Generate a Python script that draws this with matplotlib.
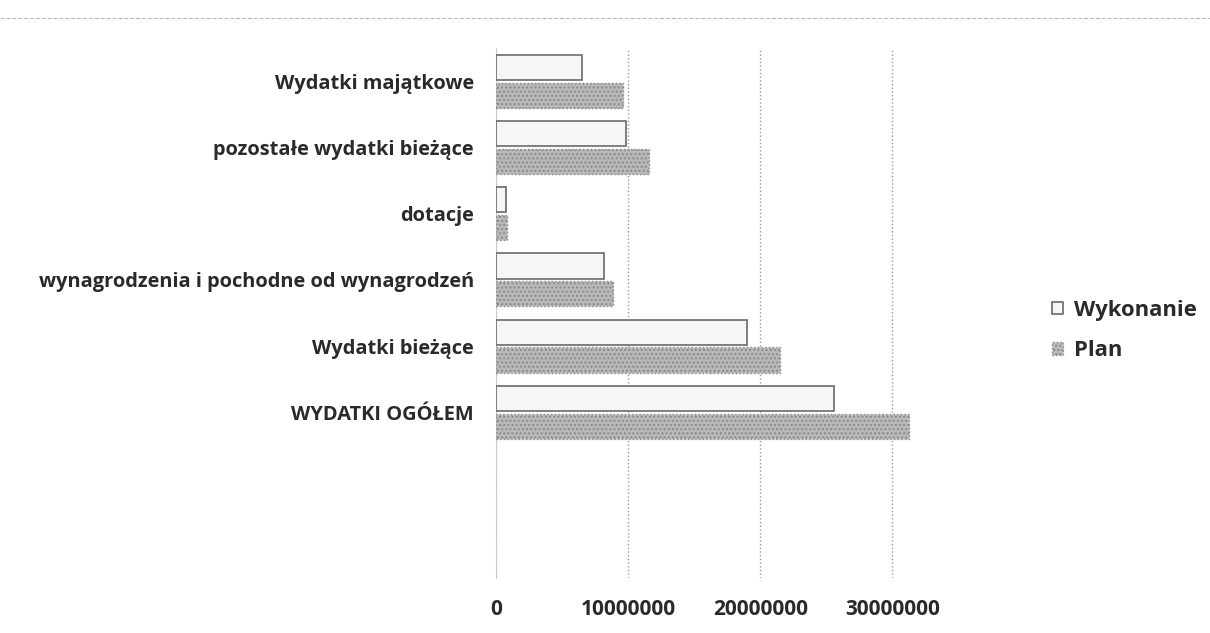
import numpy as np
import matplotlib.pyplot as plt
from matplotlib.lines import Line2D

##data (bottom to top)
categories = ['WYDATKI OGÓŁEM', 'Wydatki bieżące', 'wynagrodzenia i pochodne od wynagrodzeń',
              'dotacje', 'pozostałe wydatki bieżące', 'Wydatki majątkowe']
wykonanie = [25600000, 19000000, 8200000, 750000, 9800000, 6500000]
plan = [31300000, 21500000, 8850000, 850000, 11600000, 9600000]
xticks = [0, 10000000, 20000000, 30000000]

plt.rcParams['font.family'] = ['Open Sans', 'DejaVu Sans']
plt.rcParams['hatch.color'] = '#a0a0a0'

##set up the figure
fig = plt.figure(figsize=(12.1, 6.33), dpi=100)
ax = fig.add_axes([0.41, 0.087, 0.382, 0.837])

y = np.arange(len(categories))
h = 0.38

ax.barh(y + 0.21, wykonanie, height=h, color='#f6f6f6', edgecolor='#6a6a6a',
        linewidth=1.2, label='Wykonanie', zorder=3)
ax.barh(y - 0.21, plan, height=h, color='#b9b9b9', edgecolor='#8a8a8a',
        linewidth=1.0, linestyle=':', hatch='....', label='Plan', zorder=3)

##axes look
ax.set_xlim(0, 35000000)
ax.set_ylim(-2.5, 5.5)
ax.set_xticks(xticks)
ax.set_xticklabels([str(t) for t in xticks], fontsize=15, fontweight='bold', color='#2a2a2a')
ax.set_yticks(y)
ax.set_yticklabels(categories, fontsize=14.4, fontweight='bold', color='#2a2a2a')
ax.tick_params(axis='both', length=0)
ax.tick_params(axis='x', pad=15)
ax.tick_params(axis='y', pad=16)
for s in ['top', 'right', 'bottom']:
    ax.spines[s].set_visible(False)
ax.spines['left'].set_color('#cccccc')
ax.spines['left'].set_linewidth(0.8)
ax.xaxis.grid(True, linestyle=':', color='#999999', linewidth=1.0, zorder=0)
ax.set_axisbelow(True)

##legend
handles, labels = ax.get_legend_handles_labels()
leg = fig.legend(handles, labels, loc='center left', bbox_to_anchor=(0.853, 0.478),
                 frameon=False, fontsize=15.8, handlelength=0.5, handleheight=0.5,
                 handletextpad=0.5, labelspacing=0.9)
for t in leg.get_texts():
    t.set_fontweight('bold')
    t.set_color('#2a2a2a')

##scan border line at top
fig.add_artist(Line2D([0.0, 1.0], [0.972, 0.972], transform=fig.transFigure,
                      color='#bbbbbb', linestyle='--', linewidth=0.8))

fig.savefig('out.png', dpi=100)
